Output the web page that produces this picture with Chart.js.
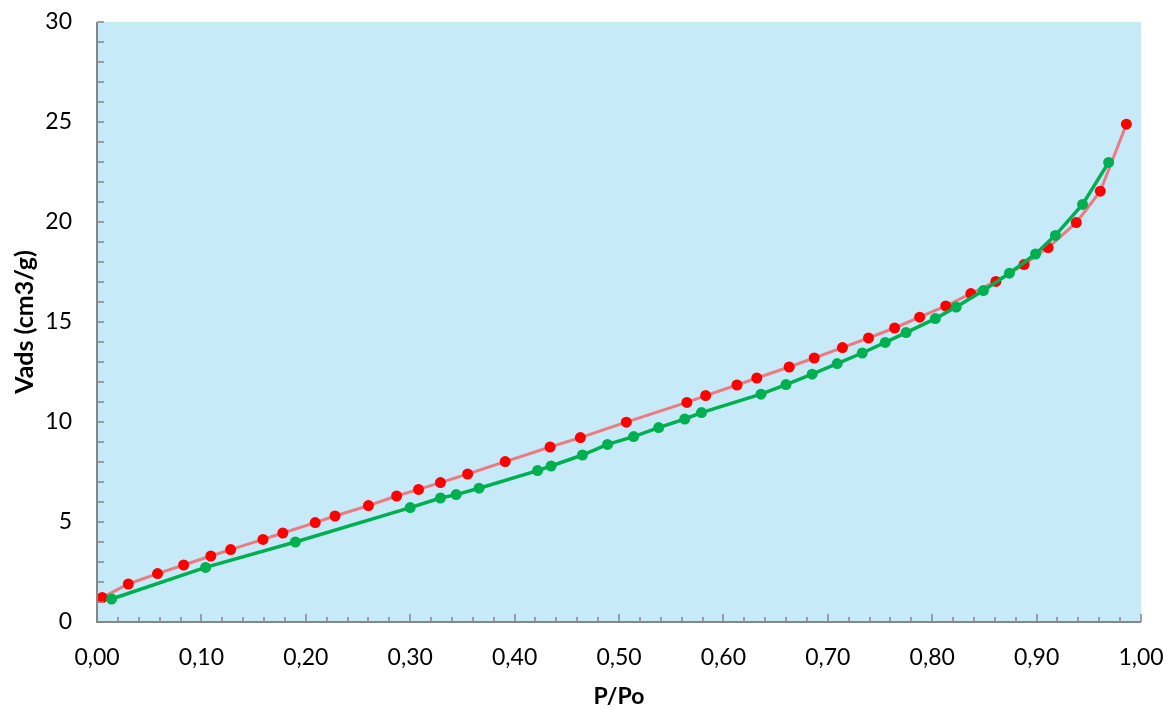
<!DOCTYPE html>
<html>
<head>
<meta charset="UTF-8">
<title>Isotherm</title>
<script src="https://cdn.jsdelivr.net/npm/chart.js@4.4.4/dist/chart.umd.min.js"></script>
<style>
html, body { margin: 0; padding: 0; background: #fff; }
#wrap { width: 1169px; height: 710px; }
</style>
</head>
<body>
<div id="wrap"><canvas id="myChart" width="1169" height="710"></canvas></div>
<script>
// desorption branch (red)
const redP = [0.005,0.030,0.058,0.083,0.109,0.128,0.159,0.178,0.209,0.228,0.260,0.287,0.308,0.329,0.355,0.391,0.434,0.463,0.507,0.565,0.583,0.613,0.632,0.663,0.687,0.714,0.739,0.764,0.788,0.813,0.837,0.861,0.888,0.911,0.938,0.961,0.986];
const redV = [1.22,1.90,2.42,2.85,3.30,3.62,4.13,4.45,4.97,5.30,5.82,6.30,6.63,6.97,7.40,8.02,8.75,9.22,9.99,10.98,11.32,11.85,12.20,12.75,13.20,13.72,14.20,14.70,15.24,15.80,16.42,17.03,17.87,18.72,19.97,21.54,24.89];
// adsorption branch (green)
const greenP = [0.014,0.104,0.190,0.300,0.329,0.344,0.366,0.422,0.435,0.465,0.489,0.514,0.538,0.563,0.579,0.636,0.660,0.685,0.709,0.733,0.755,0.775,0.803,0.823,0.849,0.874,0.899,0.918,0.944,0.969];
const greenV = [1.15,2.73,4.00,5.72,6.20,6.37,6.69,7.57,7.80,8.35,8.88,9.27,9.72,10.15,10.47,11.39,11.87,12.39,12.92,13.45,13.98,14.47,15.17,15.75,16.57,17.44,18.40,19.33,20.88,22.98];

const xMin = 0, xMax = 1, xStep = 0.1, xMinor = 0.02;
const yMin = 0, yMax = 30, yStep = 5, yMinor = 1;

const toPts = (xs, ys) => xs.map((x, i) => ({ x: x, y: ys[i] }));

const bgPlugin = {
  id: 'bg',
  beforeDraw(chart) {
    const a = chart.chartArea, ctx = chart.ctx;
    ctx.save();
    ctx.fillStyle = '#c6eaf8';
    ctx.fillRect(a.left, a.top, a.right - a.left, a.bottom - a.top);
    ctx.restore();
  }
};

// axis lines with inner tick marks
const axisPlugin = {
  id: 'axes',
  afterDatasetsDraw(chart) {
    const a = chart.chartArea, ctx = chart.ctx;
    const xs = chart.scales.x, ys = chart.scales.y;
    ctx.save();
    ctx.strokeStyle = '#878787';
    ctx.lineWidth = 2;
    ctx.beginPath();
    ctx.moveTo(a.left, a.top); ctx.lineTo(a.left, a.bottom); ctx.lineTo(a.right, a.bottom);
    ctx.stroke();
    ctx.lineWidth = 1.5;
    ctx.beginPath();
    for (let i = 0; i <= Math.round((xMax - xMin) / xMinor); i++) {
      const v = xMin + i * xMinor;
      const px = Math.round(xs.getPixelForValue(v));
      const major = i % 5 === 0;
      ctx.moveTo(px, a.bottom); ctx.lineTo(px, a.bottom - (major ? 8 : 5));
    }
    for (let i = 0; i <= Math.round((yMax - yMin) / yMinor); i++) {
      const v = yMin + i * yMinor;
      const py = Math.round(ys.getPixelForValue(v));
      ctx.moveTo(a.left, py); ctx.lineTo(a.left + 7, py);
    }
    ctx.stroke();
    ctx.restore();
  }
};

const font = "Lato, 'Open Sans', sans-serif";

const ctx = document.getElementById('myChart').getContext('2d');
const myChart = new Chart(ctx, {
  type: 'scatter',
  data: {
    datasets: [{
      label: 'adsorption',
      data: toPts(greenP, greenV),
      showLine: true,
      borderColor: '#00b050',
      backgroundColor: '#00b050',
      borderWidth: 3.5,
      pointRadius: 5.5,
      pointBorderWidth: 0,
      tension: 0,
      order: 0
    }, {
      label: 'desorption',
      data: toPts(redP, redV),
      showLine: true,
      borderColor: 'rgba(240,110,115,0.9)',
      backgroundColor: '#ff0000',
      borderWidth: 3,
      pointRadius: 5.5,
      pointBorderWidth: 0,
      tension: 0,
      order: 1
    }]
  },
  options: {
    responsive: false,
    animation: false,
    layout: { padding: { top: 22, right: 28, left: 0, bottom: 0 } },
    plugins: { legend: { display: false }, tooltip: { enabled: false } },
    scales: {
      x: {
        type: 'linear', min: xMin, max: xMax,
        grid: { display: false, drawTicks: false },
        border: { display: false },
        ticks: {
          stepSize: xStep, padding: 22, color: '#000',
          font: { family: font, size: 23 },
          callback: v => v.toFixed(2).replace('.', ',')
        },
        title: {
          display: true, text: 'P/Po', color: '#000',
          font: { family: font, size: 23, weight: 'bold' },
          padding: { top: 4, bottom: 0 }
        },
        afterFit: s => { s.height = 88; s.paddingLeft = 0; s.paddingRight = 0; }
      },
      y: {
        type: 'linear', min: yMin, max: yMax,
        grid: { display: false, drawTicks: false },
        border: { display: false },
        ticks: {
          stepSize: yStep, padding: 25, color: '#000',
          font: { family: font, size: 23 }
        },
        title: {
          display: true, text: 'Vads (cm3/g)', color: '#000',
          font: { family: font, size: 25, weight: 'bold' },
          padding: { top: 10, bottom: 0 }
        },
        afterFit: s => { s.width = 97; s.paddingTop = 0; s.paddingBottom = 0; }
      }
    }
  },
  plugins: [bgPlugin, axisPlugin]
});
</script>
</body>
</html>
